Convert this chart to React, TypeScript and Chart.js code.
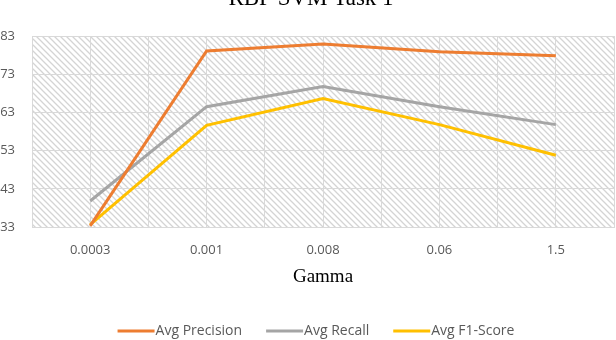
import React, { useEffect, useRef } from "react";
import { Chart, registerables } from "chart.js";

Chart.register(...registerables);

const titleText = "RBF SVM Task 1";
const xAxisTitle = "Gamma";
const gammaLabels = ["0.0003", "0.001", "0.008", "0.06", "1.5"];
const seriesNames = ["Avg Precision", "Avg Recall", "Avg F1-Score"];
const seriesColors = ["#ED7D31", "#A5A5A5", "#FFC000"];
const avgPrecision = [33.3, 79.1, 80.9, 78.9, 77.8];
const avgRecall = [39.8, 64.5, 69.8, 64.5, 59.8];
const avgF1 = [33.6, 59.6, 66.6, 59.8, 51.8];

const decorPlugin = {
  id: "decor",
  beforeDraw(chart: any) {
    const { ctx, chartArea } = chart;
    const p = document.createElement("canvas");
    p.width = 6;
    p.height = 6;
    const pc = p.getContext("2d")!;
    pc.strokeStyle = "#d4d4d4";
    pc.lineWidth = 1.3;
    pc.beginPath();
    pc.moveTo(-1, -1);
    pc.lineTo(7, 7);
    pc.moveTo(-1, 5);
    pc.lineTo(1, 7);
    pc.moveTo(5, -1);
    pc.lineTo(7, 1);
    pc.stroke();
    const pattern = ctx.createPattern(p, "repeat");
    ctx.save();
    ctx.fillStyle = "#ffffff";
    ctx.fillRect(0, 0, chart.width, chart.height);
    ctx.fillStyle = pattern;
    ctx.fillRect(chartArea.left, chartArea.top, chartArea.right - chartArea.left, chartArea.bottom - chartArea.top);
    ctx.restore();
  },
  afterDraw(chart: any) {
    const { ctx } = chart;
    ctx.save();
    // chart title (clipped at top as in reference)
    ctx.font = "23px 'Liberation Serif'";
    ctx.fillStyle = "#000";
    ctx.textAlign = "center";
    ctx.textBaseline = "alphabetic";
    ctx.fillText(titleText, 311, 5);
    // x axis title
    ctx.font = "19px 'Liberation Serif'";
    ctx.textBaseline = "middle";
    ctx.fillText(xAxisTitle, 323, 277);
    // legend
    ctx.font = "14px 'Open Sans'";
    ctx.textAlign = "left";
    const lineW = 37;
    const gap = 1;
    const spacing = 24;
    const widths = chart.data.datasets.map((d: any) => ctx.measureText(d.label).width);
    const total = widths.reduce((a: number, w: number) => a + lineW + gap + w, 0) + spacing * (widths.length - 1);
    let x = 316 - total / 2;
    const y = 331;
    chart.data.datasets.forEach((d: any, i: number) => {
      ctx.fillStyle = d.borderColor;
      ctx.fillRect(x, y - 1.5, lineW, 3);
      ctx.fillStyle = "#595959";
      ctx.fillText(d.label, x + lineW + gap, y);
      x += lineW + gap + widths[i] + spacing;
    });
    ctx.restore();
  },
};

export default function App() {
  const ref = useRef<HTMLCanvasElement>(null);
  useEffect(() => {
    const mk = (arr: number[]) => arr.map((y, i) => ({ x: i, y }));
    const values = [avgPrecision, avgRecall, avgF1];
    const chart = new Chart(ref.current!, {
      type: "line",
      data: {
        datasets: values.map((v, i) => ({
          label: seriesNames[i],
          data: mk(v),
          borderColor: seriesColors[i],
          backgroundColor: seriesColors[i],
          borderWidth: 3,
          pointRadius: 0,
          tension: 0,
        })),
      },
      options: {
        animation: false,
        responsive: false,
        layout: { padding: { top: 36, right: 2, left: 0, bottom: 0 } },
        plugins: {
          tooltip: { enabled: false },
          legend: { display: false },
        },
        scales: {
          x: {
            type: "linear",
            min: -0.5,
            max: 4.5,
            afterFit: (s: any) => {
              s.height = 113;
              s.paddingLeft = 0;
              s.paddingRight = 0;
            },
            ticks: {
              stepSize: 0.5,
              color: "#595959",
              font: { family: "'Open Sans'", size: 13 },
              padding: 15,
              autoSkip: false,
              maxRotation: 0,
              callback: (v: any) => (Number.isInteger(v) ? gammaLabels[v] : ""),
            },
            grid: { color: "#d9d9d9", drawTicks: false },
            border: { color: "#d9d9d9" },
          },
          y: {
            min: 33,
            max: 83,
            afterFit: (s: any) => {
              s.width = 32;
            },
            ticks: {
              stepSize: 10,
              color: "#595959",
              font: { family: "'Open Sans'", size: 13 },
              padding: 17,
            },
            grid: { color: "#d9d9d9", drawTicks: false },
            border: { color: "#d9d9d9" },
          },
        },
      },
      plugins: [decorPlugin],
    } as any);
    return () => chart.destroy();
  }, []);
  return (
    <div style={{ position: "absolute", left: 0, top: 0 }}>
      <canvas ref={ref} width={616} height={340} />
    </div>
  );
}
